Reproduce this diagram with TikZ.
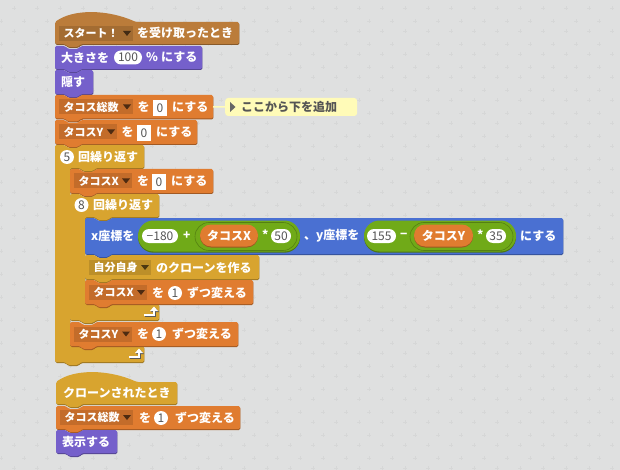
\documentclass[tikz,border=0pt]{standalone}
\usepackage{fontspec}
\setmainfont{Noto Sans CJK JP}
\usetikzlibrary{shapes.misc}
\usetikzlibrary{shadows}

\definecolor{canvasbg}{HTML}{DFE0E0}
\definecolor{canvasdot}{HTML}{D6D7D7}
\definecolor{hatbrown}{HTML}{BB7C3A}
\definecolor{looks}{HTML}{7560CB}
\definecolor{data}{HTML}{E07C30}
\definecolor{control}{HTML}{D8A42F}
\definecolor{motion}{HTML}{4A70D2}
\definecolor{oper}{HTML}{70AA18}
\definecolor{notefill}{HTML}{FFFBB8}
\definecolor{inktext}{HTML}{555555}

\tikzset{
  blk/.style={rounded corners=1.5pt},
  stk shape/.style 2 args={insert path={
    (0,0) -- (10,0) -- (13,3) -- (23,3) -- (26,0) -- (#1,0) -- (#1,#2)
    -- (26,#2) -- (23,#2+3) -- (13,#2+3) -- (10,#2) -- (0,#2) -- cycle}},
  hat shape/.style 2 args={insert path={
    (0,0) .. controls (18,-13) and (52,-13) .. (81,0) -- (#1,0) -- (#1,#2)
    -- (26,#2) -- (23,#2+3) -- (13,#2+3) -- (10,#2) -- (0,#2) -- cycle}},
  lab/.style={anchor=west,inner sep=0pt,text=white,font=\bfseries\fontsize{12}{14}\selectfont},
  ddlab/.style={lab,font=\bfseries\fontsize{11}{14}\selectfont},
  num/.style={inner sep=0pt,text=inktext,font=\fontsize{12}{14}\selectfont},
  numbox/.style={num,fill=white,minimum width=14pt,minimum height=16pt},
  numcirc/.style={num,circle,fill=white,minimum size=14pt},
  numpill/.style={num,rounded rectangle,fill=white,minimum height=14pt},
  varpill/.style={lab,anchor=center,rounded rectangle,fill=data,minimum height=22pt,
    general shadow={fill=data!70!black,shadow yshift=-1pt}},
  oppill/.style={rounded rectangle,fill=oper,inner sep=0pt,minimum height=31pt,
    general shadow={fill=oper!70!black,shadow yshift=-1.2pt}},
  opring/.style={rounded rectangle,fill=oper,draw=oper!75!black,line width=.6pt,
    inner sep=0pt,minimum height=28pt},
  notebox/.style={rectangle,rounded corners=3pt,fill=notefill,minimum width=132pt,
    minimum height=18pt,anchor=west},
}

% name, x, y, width, height, colour
\newcommand{\stackblk}[6]{
  \fill[blk,#6!72!black,shift={(#2+.4,#3+1)},stk shape={#4}{#5}];
  \fill[blk,#6,shift={(#2,#3)},stk shape={#4}{#5}];
  \coordinate (#1) at (#2+#4,#3+#5/2);
}
\newcommand{\hatblk}[6]{
  \fill[blk,#6!72!black,shift={(#2+.4,#3+1)},hat shape={#4}{#5}];
  \fill[blk,#6,shift={(#2,#3)},hat shape={#4}{#5}];
  \coordinate (#1) at (#2+#4,#3+#5/2);
}
% name, x, y, width, arm height, bar top, bottom (the last three from y)
\newcommand{\loopblk}[7]{
  \begin{scope}[shift={(#2,#3)}]
    \foreach \off/\col in {1/control!72!black,0/control}
      \fill[blk,\col,shift={(\off*.4,\off)}] (0,0) -- (10,0) -- (13,3) -- (23,3) -- (26,0)
        -- (#4,0) -- (#4,#5) -- (41,#5) -- (38,#5+3) -- (28,#5+3) -- (25,#5) -- (15,#5)
        -- (15,#6) -- (#4,#6) -- (#4,#7) -- (26,#7) -- (23,#7+3) -- (13,#7+3) -- (10,#7)
        -- (0,#7) -- cycle;
  \end{scope}
  \coordinate (#1) at (#2+#4,#3+#5/2);
}
% name, x, y, width, colour, text
\newcommand{\dropbox}[6]{
  \fill[#5!87!black] (#2,#3) rectangle ++(#4,15);
  \fill[#5!35!black] (#2+#4-10,#3+5) -- ++(8,0) -- ++(-4,5) -- cycle;
  \node[ddlab] (#1) at (#2+4.5,#3+7.5) {#6};
}
% name, x, y
\newcommand{\loopmark}[3]{
  \coordinate (#1) at (#2,#3);
  \foreach \off/\col in {1/black!65,0/white}{
    \draw[\col,line width=1.6pt,shift={(\off,\off)}] (#2-6,#3+4) -- (#2+4,#3+4) -- (#2+4,#3-1);
    \fill[\col,shift={(\off,\off)}] (#2,#3) -- (#2+8,#3) -- (#2+4,#3-4.5) -- cycle;
  }
}

\begin{document}
\begin{tikzpicture}[x=1pt,y=-1pt]
\fill[canvasbg] (0,0) rectangle (620,470);
\useasboundingbox (0,0) rectangle (620,470);
% canvas dots
\foreach \i in {0,...,27}
  \foreach \j in {0,...,20}{
    \draw[canvasdot,line width=.8pt] ({\i*23+1.3-2},{\j*23+21.3}) -- ++(4,0) ({\i*23+1.3},{\j*23+19.3}) -- ++(0,4);
    \draw[canvasdot,line width=.8pt] ({\i*23+14.3-2},{\j*23+8.3}) -- ++(4,0) ({\i*23+14.3},{\j*23+6.3}) -- ++(0,4);
  }

% first script
\hatblk{whenstart}{55}{22}{184}{22}{hatbrown}
\stackblk{setsize}{55}{46}{147}{23}{looks}
\stackblk{hide}{55}{70}{38}{24}{looks}
\stackblk{settotal}{55}{95}{158}{23.5}{data}
\stackblk{sety}{55}{120}{142}{24}{data}
\loopblk{loopfive}{55}{145}{89}{23}{201}{217}
\stackblk{setx}{70}{169}{143}{24}{data}
\loopblk{loopeight}{70}{194}{89}{23}{110}{126}
\stackblk{goto}{85}{218}{478}{36}{motion}
\stackblk{clone}{85}{255}{174}{24}{control}
\stackblk{changex}{85}{280}{168}{24}{data}
\stackblk{changey}{70}{322}{168}{24}{data}
% second script
\hatblk{whenclone}{56}{382}{121}{22}{control}
\stackblk{changetotal}{56}{406}{184}{23}{data}
\stackblk{show}{56}{430}{61}{23}{looks}

\dropbox{ddstart}{59}{26}{74}{hatbrown}{スタート！}
\node[lab] (tstart) at (137,33) {を受け取ったとき};

\node[lab] (tsize) at (61,57.5) {大きさを};
\node[numpill,minimum width=28pt] (nsize) at (128,57.5) {100};
\node[lab] (tpct) at (146,57.5) {\%};
\node[lab] (tsize2) at (161,57.5) {にする};

\node[lab] (thide) at (61,82) {隠す};

\dropbox{ddtotal}{59}{99.5}{74}{data}{タコス総数}
\node[lab] (tset1) at (137.5,107) {を};
\node[numbox] (nset1) at (160,108) {0};
\node[lab] (tset1b) at (172,107) {にする};

\dropbox{ddy}{59}{124.5}{58}{data}{タコスY}
\node[lab] (tset2) at (121.5,132) {を};
\node[numbox] (nset2) at (144,133) {0};
\node[lab] (tset2b) at (156,132) {にする};

\node[numcirc] (nfive) at (67,157) {5};
\node[lab] (tfive) at (78,157) {回繰り返す};

\dropbox{ddx}{74}{173.5}{58}{data}{タコスX}
\node[lab] (tset3) at (137,181) {を};
\node[numbox] (nset3) at (159,182) {0};
\node[lab] (tset3b) at (171,181) {にする};

\node[numcirc] (neight) at (81.5,205) {8};
\node[lab] (teight) at (93,205) {回繰り返す};

\node[lab] (tgox) at (91,236) {x座標を};
\node[oppill,minimum width=162pt] (xexpr) at (219,236) {};
\node[numpill,minimum width=36pt] (nxa) at (160,236) {−180};
\node[lab] (tplus) at (183,236) {+};
\node[opring,minimum width=102pt] (xring) at (246,236.5) {};
\node[varpill,minimum width=58pt] (vx) at (229,235.5) {タコスX};
\node[lab] (tmulx) at (262,235) {*};
\node[numpill,minimum width=20pt] (nxb) at (281,236) {50};
\node[lab] (tgoy) at (304,236) {、y座標を};
\node[oppill,minimum width=152pt] (yexpr) at (440,236) {};
\node[numpill,minimum width=29pt] (nya) at (381.5,236) {155};
\node[lab] (tminus) at (400,236) {−};
\node[opring,minimum width=103pt] (yring) at (461.5,236.5) {};
\node[varpill,minimum width=59pt] (vy) at (443.5,235.5) {タコスY};
\node[lab] (tmuly) at (477,235) {*};
\node[numpill,minimum width=20pt] (nyb) at (496,236) {35};
\node[lab] (tgoend) at (520,236) {にする};

\dropbox{ddclone}{89}{260}{62}{control}{自分自身}
\node[lab] (tclone) at (156,267.5) {のクローンを作る};

\dropbox{ddcx}{89}{285}{58}{data}{タコスX}
\node[lab] (tcx) at (152,292.5) {を};
\node[numcirc] (ncx) at (175,293) {1};
\node[lab] (tcxb) at (187,292.5) {ずつ変える};

\loopmark{markeight}{150}{311}

\dropbox{ddcy}{74}{326.5}{58}{data}{タコスY}
\node[lab] (tcy) at (137,334) {を};
\node[numcirc] (ncy) at (159,334) {1};
\node[lab] (tcyb) at (172,334) {ずつ変える};

\loopmark{markfive}{135}{353}

\node[lab] (tclonewhen) at (63,393) {クローンされたとき};

\dropbox{ddct}{60}{410}{73}{data}{タコス総数}
\node[lab] (tct) at (139,417.5) {を};
\node[numcirc] (nct) at (161,418) {1};
\node[lab] (tctb) at (175,417.5) {ずつ変える};

\node[lab] (tshow) at (62,441.5) {表示する};

% comment
\node[notebox] (note) at (225,107) {};
\draw[notefill,line width=1.5pt] (settotal) -- (note.west);
\fill[black!60] (230,102) -- (235.5,107) -- (230,112) -- cycle;
\node[lab,text=inktext] (tnote) at (241,107) {ここから下を追加};
\end{tikzpicture}
\end{document}
